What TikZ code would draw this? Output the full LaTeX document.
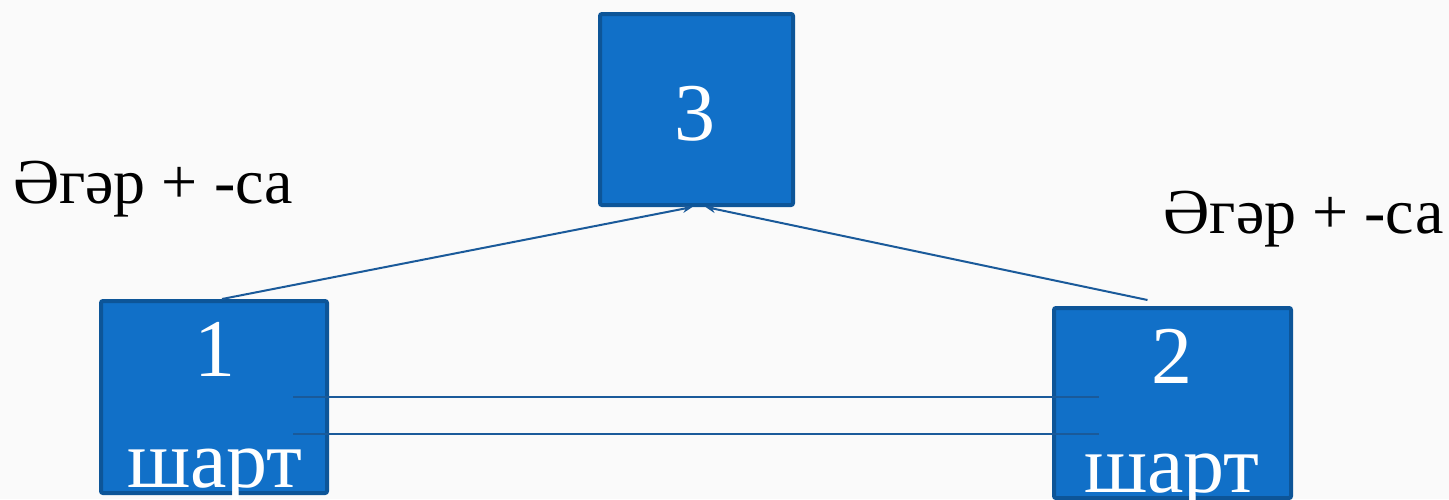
\documentclass[tikz,border=0pt]{standalone}
\usepackage{fontspec}
\setmainfont{Liberation Serif}
\usetikzlibrary{arrows.meta,calc}
\definecolor{boxblue}{HTML}{1170C8}
\definecolor{boxedge}{HTML}{0D5598}
\definecolor{linkblue}{HTML}{1A5A9A}

\begin{document}
\begin{tikzpicture}[x=0.5pt,y=-0.5pt]
        \fill[gray!4] (0,0) rectangle (1449,499);
        \useasboundingbox (0,0) rectangle (1449,499);

        \begin{scope}[every node/.style={rectangle,draw=boxedge,fill=boxblue,line width=2pt,rounded corners=1pt,inner sep=0pt}]
            \node[minimum width=96.5pt,minimum height=95.5pt] (box3) at (696.5,109.5) {};
            \node[minimum width=113pt,minimum height=96pt] (box1) at (214,397) {};
            \node[minimum width=118.5pt,minimum height=95pt] (box2) at (1172.5,403) {};
        \end{scope}

        \begin{scope}[every node/.style={text=white,anchor=base,inner sep=0pt,font=\fontsize{41}{41}\selectfont}]
            \node (num3) at (695,140) {3};
            \node (num1) at (215,376) {1};
            \node (word1) at (215,487) {шарт};
            \node (num2) at (1172,383) {2};
            \node (word2) at (1172,492) {шарт};
        \end{scope}

        \begin{scope}[every node/.style={text=black,anchor=base,inner sep=0pt,font=\fontsize{32}{32}\selectfont}]
            \node (cond1) at (153,203) {Әгәр + -са};
            \node (cond2) at (1303.5,233) {Әгәр + -са};
        \end{scope}

        \coordinate (from1) at ($(box1.north)+(8,0)$);
        \coordinate (from2) at ($(box2.north)+(-25,-6)$);
        \coordinate (to3a) at ($(box3.south)+(-4,0)$);
        \coordinate (to3b) at ($(box3.south)+(9,0)$);
        \coordinate (up1) at ($(box1.center)+(79,0)$);
        \coordinate (up2) at ($(box2.west |- box1.center)+(47,0)$);
        \coordinate (low1) at ($(up1)+(0,37)$);
        \coordinate (low2) at ($(up2)+(0,37)$);

        \begin{scope}[>={Stealth[length=5pt,width=4pt]},
                    every edge/.style={draw=linkblue,line width=1pt}]
            \path [->] (from1) edge (to3a);
            \path [->] (from2) edge (to3b);

            \path [-] (up1) edge (up2);
            \path [-] (low1) edge (low2);
        \end{scope}
    \end{tikzpicture}
\end{document}
